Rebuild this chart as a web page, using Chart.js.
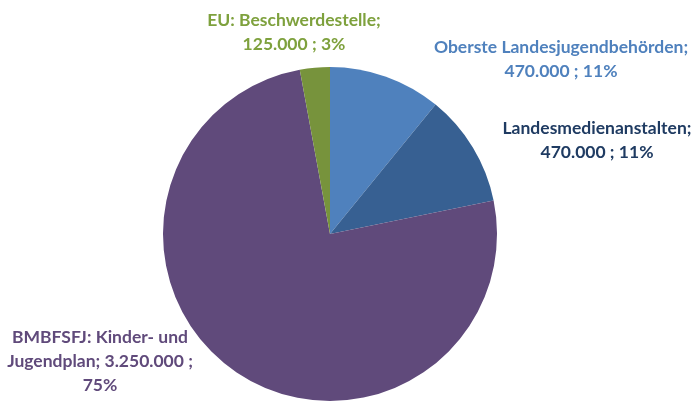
<!DOCTYPE html>
<html>
<head>
<meta charset="utf-8">
<script src="https://cdn.jsdelivr.net/npm/chart.js@4"></script>
<style>
  html, body { margin: 0; padding: 0; background: #fff; }
  #wrap { width: 700px; height: 411px; }
</style>
</head>
<body>
<div id="wrap"><canvas id="chart"></canvas></div>
<script>
// slices, clockwise from 12 o'clock
const categories = ['Oberste Landesjugendbehörden', 'Landesmedienanstalten', 'BMBFSFJ: Kinder- und Jugendplan', 'EU: Beschwerdestelle'];
const amounts = [470000, 470000, 3250000, 125000];
const sliceColors = ['#4f81bd', '#376092', '#604a7b', '#77933c'];
const labelColors = ['#4f81bd', '#1f3b62', '#604a7b', '#7ea13d'];
// where each label block is centred, and how wide it may wrap
const labelSpots = [[561, 47], [597, 128], [100, 337], [294, 20]];
const wrapWidths = [300, 240, 195, 190];

function fmt(n) {
    return String(n).replace(/\B(?=(\d{3})+(?!\d))/g, '.');
}

const total = amounts.reduce((a, b) => a + b, 0);

const outsideLabels = {
    id: 'outsideLabels',
    afterDraw(chart) {
        const ctx = chart.ctx;
        ctx.save();
        ctx.font = 'bold 17.5px Lato';
        ctx.textAlign = 'center';
        ctx.textBaseline = 'middle';
        categories.forEach((name, i) => {
            const pct = Math.round(amounts[i] / total * 100);
            const words = (name + '; ' + fmt(amounts[i]) + ' ; ' + pct + '%').split(' ');
            let lines = [];
            let cur = '';
            words.forEach(w => {
                let test = cur ? cur + ' ' + w : w;
                if (ctx.measureText(test).width > wrapWidths[i] && cur) {
                    lines.push(cur);
                    cur = w;
                } else {
                    cur = test;
                }
            });
            lines.push(cur);
            ctx.fillStyle = labelColors[i];
            lines.forEach((ln, k) => {
                ctx.fillText(ln, labelSpots[i][0], labelSpots[i][1] + k * 24);
            });
        });
        ctx.restore();
    }
};

new Chart(document.getElementById('chart'), {
    type: 'pie',
    data: {
        labels: categories,
        datasets: [{
            data: amounts,
            backgroundColor: sliceColors,
            borderWidth: 0
        }]
    },
    options: {
        responsive: true,
        maintainAspectRatio: false,
        animation: false,
        layout: { padding: { left: 163, right: 203, top: 67, bottom: 10 } },
        plugins: {
            legend: { display: false },
            tooltip: { enabled: false }
        }
    },
    plugins: [outsideLabels]
});
</script>
</body>
</html>
